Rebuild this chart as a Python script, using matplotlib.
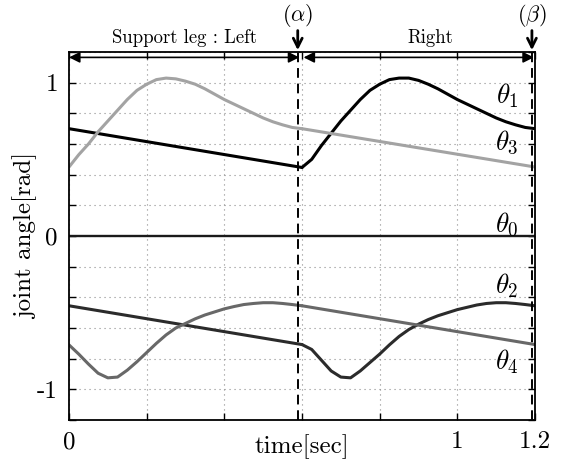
import matplotlib
matplotlib.use("Agg")
import matplotlib.pyplot as plt

plt.rcParams['font.family'] = 'cmr10'
plt.rcParams['mathtext.fontset'] = 'cm'
plt.rcParams['axes.unicode_minus'] = False
plt.rcParams['lines.solid_joinstyle'] = 'round'
plt.rcParams['lines.solid_capstyle'] = 'round'

# Zeitachse der Kurven (Stützbein links: 0..0.6, rechts: 0.6..1.2)
t_curve_left = [0.000, 0.025, 0.050, 0.075, 0.100, 0.125, 0.150, 0.175, 0.200, 0.225, 0.250, 0.275,
                0.300, 0.325, 0.350, 0.375, 0.400, 0.425, 0.450, 0.475, 0.500, 0.525, 0.550, 0.575, 0.600]
t_curve_right = [0.600, 0.625, 0.650, 0.675, 0.700, 0.725, 0.750, 0.775, 0.800, 0.825, 0.850, 0.875,
                 0.900, 0.925, 0.950, 0.975, 1.000, 1.025, 1.050, 1.075, 1.100, 1.125, 1.150, 1.175, 1.200]
t_line_left = [0.0, 0.6]
t_line_right = [0.6, 1.2]
t_all = [0.0, 1.2]

# Gelenkwinkel [rad]
theta0 = [0.0, 0.0]

theta1_line = [0.700, 0.447]
theta1_curve = [0.447, 0.50, 0.59, 0.67, 0.75, 0.82, 0.89, 0.95, 0.99, 1.02, 1.03, 1.03,
                1.015, 0.99, 0.96, 0.925, 0.89, 0.86, 0.83, 0.80, 0.77, 0.745, 0.725, 0.708, 0.700]

theta3_curve = [0.450, 0.53, 0.60, 0.68, 0.75, 0.82, 0.89, 0.95, 0.99, 1.02, 1.03, 1.025,
                1.01, 0.99, 0.96, 0.925, 0.89, 0.86, 0.83, 0.80, 0.77, 0.745, 0.725, 0.708, 0.700]
theta3_line = [0.700, 0.450]

theta2_line = [-0.455, -0.708]
theta2_curve = [-0.708, -0.74, -0.81, -0.88, -0.92, -0.925, -0.88, -0.825, -0.77, -0.71, -0.655, -0.61,
                -0.575, -0.545, -0.52, -0.50, -0.48, -0.465, -0.45, -0.44, -0.435, -0.435, -0.44, -0.447, -0.455]

theta4_curve = [-0.710, -0.77, -0.835, -0.895, -0.925, -0.92, -0.875, -0.82, -0.76, -0.70, -0.645, -0.60,
                -0.57, -0.54, -0.515, -0.495, -0.475, -0.46, -0.447, -0.44, -0.435, -0.435, -0.44, -0.447, -0.455]
theta4_line = [-0.455, -0.708]

labels = [r'$\theta_1$', r'$\theta_3$', r'$\theta_0$', r'$\theta_2$', r'$\theta_4$']
label_y = [0.915, 0.61, 0.078, -0.327, -0.817]

t_alpha = 0.589
t_beta = 1.192

fig = plt.figure(figsize=(5.67, 4.62), dpi=100)
ax = fig.add_axes([0.1217, 0.0909, 0.8219, 0.7965])

c1, c3, c2, c4, c0 = '#000000', '#a3a3a3', '#2b2b2b', '#686868', '#1a1a1a'
lw = 2.2
ax.plot(t_all, theta0, color=c0, lw=1.7)
ax.plot(t_line_left, theta1_line, color=c1, lw=lw)
ax.plot(t_curve_right, theta1_curve, color=c1, lw=lw)
ax.plot(t_curve_left, theta3_curve, color=c3, lw=lw)
ax.plot(t_line_right, theta3_line, color=c3, lw=lw)
ax.plot(t_line_left, theta2_line, color=c2, lw=lw)
ax.plot(t_curve_right, theta2_curve, color=c2, lw=lw)
ax.plot(t_curve_left, theta4_curve, color=c4, lw=lw)
ax.plot(t_line_right, theta4_line, color=c4, lw=lw)

for txt, y in zip(labels, label_y):
    ax.text(1.128, y, txt, fontsize=19.5, ha='center', va='center')

# Phasenwechsel
for tv in (t_alpha, t_beta):
    ax.axvline(tv, color='k', lw=1.4, ls=(0, (5, 3)))

ax.set_xlim(0, 1.2)
ax.set_ylim(-1.2, 1.2)

xt = [0.0, 0.2, 0.4, 0.6, 0.8, 1.0, 1.2]
yt = [-1.2, -1.0, -0.8, -0.6, -0.4, -0.2, 0.0, 0.2, 0.4, 0.6, 0.8, 1.0, 1.2]
ax.set_xticks(xt)
ax.set_xticklabels(['0', '', '', '', '', '1', '1.2'])
ax.set_yticks(yt)
ax.set_yticklabels(['' if abs(v) not in (0.0, 1.0) else ('-1' if v < 0 else str(int(v))) for v in yt])
ax.tick_params(direction='in', top=True, right=True, length=5, width=1, labelsize=18, pad=8)
ax.grid(True, color='#8c8c8c', lw=0.8, ls=(0, (1, 3.5)))
for s in ax.spines.values():
    s.set_linewidth(1.3)

ax.set_xlabel('time[sec]', fontsize=18)
ax.xaxis.set_label_coords(0.5, -0.04)
ax.set_ylabel('joint angle[rad]', fontsize=18)
ax.yaxis.set_label_coords(-0.066, 0.5)

# Stützbein-Pfeile oben
ay = 1.165
ap = dict(arrowstyle='<|-|>', color='k', lw=1.2, mutation_scale=16, shrinkA=0, shrinkB=0)
ax.annotate('', xy=(0.593, ay), xytext=(0.0, ay), arrowprops=ap, annotation_clip=False)
ax.annotate('', xy=(1.197, ay), xytext=(0.604, ay), arrowprops=ap, annotation_clip=False)
ax.text(0.298, 1.29, 'Support leg : Left', fontsize=13.5, ha='center', va='center')
ax.text(0.93, 1.29, 'Right', fontsize=13.5, ha='center', va='center')

dp = dict(arrowstyle='->', color='k', lw=2, mutation_scale=16, shrinkA=0, shrinkB=0)
for tv, name in ((t_alpha, r'$(\alpha)$'), (t_beta, r'$(\beta)$')):
    ax.annotate('', xy=(tv, 1.212), xytext=(tv, 1.34), arrowprops=dp, annotation_clip=False)
    ax.text(tv, 1.44, name, fontsize=16, ha='center', va='center')

fig.savefig('out.png', dpi=100)
